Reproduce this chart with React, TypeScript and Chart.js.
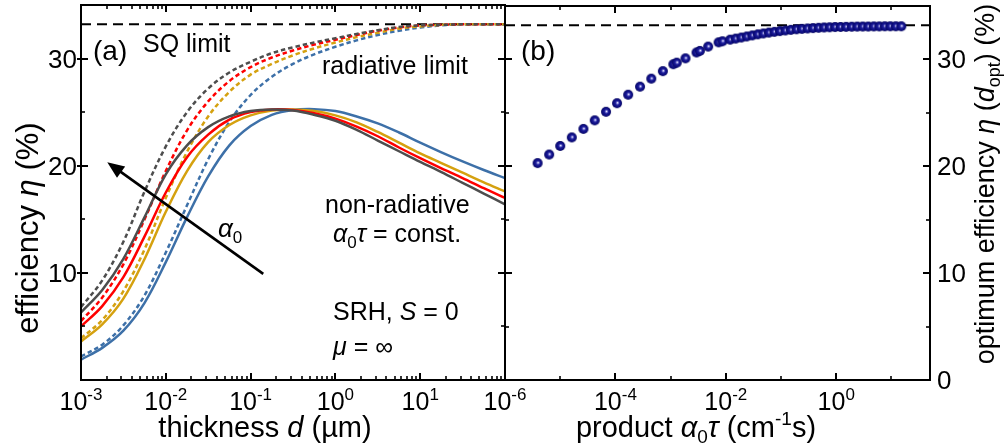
import { useEffect, useRef } from "react";
import { Chart, registerables } from "chart.js";

Chart.register(...registerables);

const FONT = '"Liberation Sans", Arial, Helvetica, sans-serif';
const W = 1004;
const H = 448;

// (a) film thickness d (µm), sampled every quarter decade
const thickness = [
  0.001, 0.00178, 0.00316, 0.00562, 0.01, 0.0178, 0.0316, 0.0562, 0.1, 0.178, 0.316,
  0.562, 1, 1.78, 3.16, 5.62, 10, 17.8, 31.6, 56.2, 100,
];

// radiative limit (dashed), one curve per absorption coefficient α0
const radiativeBlue = [2.2, 3.3, 5.1, 7.9, 11.9, 16.3, 20.6, 24.1, 26.6, 28.3, 29.5, 30.4, 31.1, 31.7, 32.2, 32.6, 32.9, 33.1, 33.2, 33.2, 33.2];
const radiativeGold = [3.9, 5.6, 8.3, 12.2, 17.0, 21.3, 24.6, 26.9, 28.5, 29.5, 30.3, 30.95, 31.5, 32.0, 32.4, 32.8, 33.0, 33.15, 33.2, 33.2, 33.2];
const radiativeRed = [5.5, 7.7, 10.8, 15.0, 19.5, 23.3, 26.0, 27.9, 29.2, 30.1, 30.75, 31.3, 31.75, 32.2, 32.6, 32.9, 33.1, 33.15, 33.2, 33.2, 33.2];
const radiativeGray = [6.8, 9.3, 12.9, 17.6, 21.8, 25.0, 27.2, 28.7, 29.7, 30.5, 31.05, 31.5, 31.9, 32.3, 32.65, 32.95, 33.1, 33.15, 33.2, 33.2, 33.2];

// SRH recombination (solid), α0τ held constant
const nonRadiativeBlue = [1.9, 3.0, 4.6, 7.2, 11.0, 15.2, 19.0, 21.9, 23.7, 24.75, 25.2, 25.28, 25.1, 24.6, 23.95, 23.1, 22.15, 21.25, 20.4, 19.6, 18.85];
const nonRadiativeGold = [3.6, 5.2, 7.6, 11.3, 15.7, 19.5, 22.2, 23.8, 24.7, 25.15, 25.25, 25.1, 24.7, 24.05, 23.15, 22.15, 21.15, 20.25, 19.35, 18.45, 17.6];
const nonRadiativeRed = [5.0, 6.9, 9.6, 13.4, 17.5, 20.8, 22.9, 24.3, 25.0, 25.25, 25.2, 24.9, 24.4, 23.65, 22.75, 21.7, 20.7, 19.75, 18.85, 17.9, 17.0];
const nonRadiativeGray = [6.3, 8.4, 11.3, 15.2, 19.2, 21.9, 23.6, 24.6, 25.1, 25.25, 25.15, 24.75, 24.2, 23.35, 22.35, 21.35, 20.35, 19.4, 18.4, 17.4, 16.4];

// Shockley–Queisser limit (%)
const sqLimit = 33.2;

// (b) product α0τ (cm^-1 s) and efficiency at the optimum thickness (%)
const alphaTauProduct = [
  3.89e-6, 6.31e-6, 1.0e-5, 1.62e-5, 2.63e-5, 4.22e-5, 6.76e-5, 1.07e-4, 1.7e-4, 2.79e-4,
  4.47e-4, 7.24e-4, 1.12e-3, 1.29e-3, 1.86e-3, 2.95e-3, 3.39e-3, 4.79e-3, 7.41e-3, 8.71e-3,
  0.012, 0.0151, 0.0191, 0.024, 0.0302, 0.038, 0.0479, 0.0603, 0.0759, 0.0955,
  0.12, 0.151, 0.191, 0.24, 0.302, 0.38, 0.479, 0.603, 0.759, 0.955,
  1.2, 1.51, 1.91, 2.4, 3.02, 3.8, 4.79, 6.03, 7.59, 9.55, 12.0, 15.1,
];
const optimumEfficiency = [
  20.3, 21.1, 21.9, 22.7, 23.5, 24.3, 25.1, 25.9, 26.7, 27.45,
  28.2, 28.9, 29.55, 29.7, 30.1, 30.65, 30.8, 31.2, 31.6, 31.7,
  31.85, 31.95, 32.05, 32.15, 32.25, 32.35, 32.43, 32.51, 32.58, 32.65,
  32.71, 32.77, 32.82, 32.86, 32.9, 32.93, 32.96, 32.99, 33.01, 33.03,
  33.04, 33.05, 33.06, 33.07, 33.08, 33.08, 33.09, 33.09, 33.1, 33.1, 33.1, 33.1,
];

// axis ranges and tick labels
const yMax = 35;
const thicknessRange = [1e-3, 100];
const productRange = [1e-6, 50];
const thicknessLabelExps = [-3, -2, -1, 0, 1];
const productLabelExps = [-6, -4, -2, 0];
const productMinorExps = [-5, -3, -1, 1];
const leftYLabels = [10, 20, 30];
const rightYLabels = [0, 10, 20, 30];

const COLORS = {
  gray: "#4d4d4d",
  red: "#ff0000",
  gold: "#d5a10f",
  blue: "#3d70a8",
};

type Run = { t: string; it?: boolean; sub?: boolean; sup?: boolean };

function runFont(r: Run, size: number) {
  const s = r.sub || r.sup ? Math.round(size * 0.66) : size;
  return `${r.it ? "italic " : ""}${s}px ${FONT}`;
}

function richWidth(ctx: CanvasRenderingContext2D, runs: Run[], size: number) {
  let w = 0;
  for (const r of runs) {
    ctx.font = runFont(r, size);
    w += ctx.measureText(r.t).width;
  }
  return w;
}

function drawRich(
  ctx: CanvasRenderingContext2D,
  runs: Run[],
  x: number,
  y: number,
  size: number,
  align: "left" | "center" | "right" = "left",
  rot = 0
) {
  ctx.save();
  ctx.translate(x, y);
  if (rot) ctx.rotate(rot);
  ctx.fillStyle = "#000";
  ctx.textAlign = "left";
  ctx.textBaseline = "alphabetic";
  const w = richWidth(ctx, runs, size);
  let cx = align === "left" ? 0 : align === "center" ? -w / 2 : -w;
  for (const r of runs) {
    ctx.font = runFont(r, size);
    const dy = r.sub ? size * 0.22 : r.sup ? -size * 0.42 : 0;
    ctx.fillText(r.t, cx, dy);
    cx += ctx.measureText(r.t).width;
  }
  ctx.restore();
}

function line(ctx: CanvasRenderingContext2D, x1: number, y1: number, x2: number, y2: number) {
  ctx.beginPath();
  ctx.moveTo(x1, y1);
  ctx.lineTo(x2, y2);
  ctx.stroke();
}

type FrameOpts = {
  xMajor: number[];
  xMinor: number[];
  leftOut: number;
  decorate: (chart: Chart, ctx: CanvasRenderingContext2D) => void;
};

function framePlugin(opts: FrameOpts) {
  return {
    id: "frame",
    afterDraw(chart: Chart) {
      const ctx = chart.ctx;
      const { left, right, top, bottom } = chart.chartArea;
      const xs = chart.scales.x;
      const ys = chart.scales.y;
      ctx.save();
      ctx.strokeStyle = "#000";
      ctx.lineWidth = 2;
      ctx.strokeRect(left, top, right - left, bottom - top);
      for (const v of opts.xMajor) {
        const px = Math.round(xs.getPixelForValue(v));
        line(ctx, px, bottom, px, bottom - 7);
        line(ctx, px, top, px, top + 7);
      }
      ctx.lineWidth = 1.6;
      for (const v of opts.xMinor) {
        const px = Math.round(xs.getPixelForValue(v));
        line(ctx, px, bottom, px, bottom - 4);
        line(ctx, px, top, px, top + 4);
      }
      for (let v = 5; v < yMax; v += 5) {
        const py = Math.round(ys.getPixelForValue(v));
        const major = v % 10 === 0;
        ctx.lineWidth = major ? 2 : 1.6;
        const len = major ? 7 : 4;
        line(ctx, left - (major ? opts.leftOut : 0), py, left + len, py);
        line(ctx, right, py, right - len, py);
      }
      ctx.restore();
      opts.decorate(chart, ctx);
    },
  };
}

function decadeLabel(ctx: CanvasRenderingContext2D, exp: number, x: number) {
  drawRich(ctx, [{ t: "10" }, { t: String(exp), sup: true }], x, 410, 25, "center");
}

function sphereImage(r: number) {
  const c = document.createElement("canvas");
  const s = Math.ceil(r * 2) + 2;
  c.width = s;
  c.height = s;
  const g = c.getContext("2d")!;
  const cx = s / 2;
  const cy = s / 2;
  const grad = g.createRadialGradient(cx + 0.6, cy - 0.4, 0.1, cx, cy, r);
  grad.addColorStop(0, "#ffffff");
  grad.addColorStop(0.16, "#8c8ce0");
  grad.addColorStop(0.4, "#1c1c98");
  grad.addColorStop(0.8, "#0a0a7c");
  grad.addColorStop(1, "#05055a");
  g.fillStyle = grad;
  g.beginPath();
  g.arc(cx, cy, r, 0, Math.PI * 2);
  g.fill();
  return c;
}

function curve(ys: number[], color: string, dashed: boolean) {
  return {
    data: thickness.map((x, i) => ({ x, y: ys[i] })),
    borderColor: color,
    borderWidth: 2.5,
    borderDash: dashed ? [4.5, 3] : [],
    pointRadius: 0,
    tension: 0.35,
    fill: false,
  };
}

function minorLogTicks(fromExp: number, toExp: number) {
  const out: number[] = [];
  for (let e = fromExp; e < toExp; e++) {
    for (let m = 2; m <= 9; m++) out.push(m * Math.pow(10, e));
  }
  return out;
}

export default function App() {
  const refA = useRef<HTMLCanvasElement>(null);
  const refB = useRef<HTMLCanvasElement>(null);

  useEffect(() => {
    const thicknessMajor = [-3, -2, -1, 0, 1, 2].map((e) => Math.pow(10, e));

    const chartA = new Chart(refA.current!, {
      type: "line",
      data: {
        datasets: [
          curve(nonRadiativeGray, COLORS.gray, false),
          curve(nonRadiativeRed, COLORS.red, false),
          curve(nonRadiativeGold, COLORS.gold, false),
          curve(nonRadiativeBlue, COLORS.blue, false),
          curve(radiativeGray, COLORS.gray, true),
          curve(radiativeRed, COLORS.red, true),
          curve(radiativeGold, COLORS.gold, true),
          curve(radiativeBlue, COLORS.blue, true),
          {
            data: thicknessRange.map((x) => ({ x, y: sqLimit })),
            borderColor: "#000",
            borderWidth: 2,
            borderDash: [10, 6],
            pointRadius: 0,
          },
        ],
      },
      options: {
        animation: false,
        responsive: false,
        layout: { padding: { left: 81, right: W - 505, top: 5, bottom: H - 380 } },
        scales: {
          x: { type: "logarithmic", min: thicknessRange[0], max: thicknessRange[1], display: false },
          y: { type: "linear", min: 0, max: yMax, display: false },
        },
        plugins: { legend: { display: false }, tooltip: { enabled: false } },
      },
      plugins: [
        framePlugin({
          xMajor: thicknessMajor,
          xMinor: minorLogTicks(-3, 2),
          leftOut: 4,
          decorate(chart, ctx) {
            const xs = chart.scales.x;
            const ys = chart.scales.y;
            for (const e of thicknessLabelExps) decadeLabel(ctx, e, xs.getPixelForValue(Math.pow(10, e)));
            for (const v of leftYLabels) {
              drawRich(ctx, [{ t: String(v) }], 77, ys.getPixelForValue(v) + 9, 26, "right");
            }
            drawRich(
              ctx,
              [{ t: "efficiency " }, { t: "η", it: true }, { t: " (%)" }],
              38,
              228,
              31,
              "center",
              -Math.PI / 2
            );
            drawRich(ctx, [{ t: "thickness " }, { t: "d", it: true }, { t: " (µm)" }], 265, 437, 29, "center");

            drawRich(ctx, [{ t: "(a)" }], 93, 60, 28);
            drawRich(ctx, [{ t: "SQ limit" }], 143, 52, 25);
            drawRich(ctx, [{ t: "radiative limit" }], 322, 74, 25);
            drawRich(ctx, [{ t: "non-radiative" }], 325, 213, 25);
            drawRich(
              ctx,
              [{ t: "α", it: true }, { t: "0", sub: true }, { t: "τ", it: true }, { t: " = const." }],
              333,
              242,
              25
            );
            drawRich(ctx, [{ t: "SRH, " }, { t: "S", it: true }, { t: " = 0" }], 333, 320, 25);
            drawRich(ctx, [{ t: "μ", it: true }, { t: " = ∞" }], 333, 355, 25);
            drawRich(ctx, [{ t: "α", it: true }, { t: "0", sub: true }], 218, 237, 26);

            // arrow: increasing α0
            const x1 = xs.getPixelForValue(0.141);
            const y1 = ys.getPixelForValue(9.9);
            const x2 = xs.getPixelForValue(0.00204);
            const y2 = ys.getPixelForValue(20.33);
            const ang = Math.atan2(y2 - y1, x2 - x1);
            const head = 17;
            ctx.save();
            ctx.strokeStyle = "#000";
            ctx.fillStyle = "#000";
            ctx.lineWidth = 2.6;
            line(ctx, x1, y1, x2 - Math.cos(ang) * (head - 3), y2 - Math.sin(ang) * (head - 3));
            ctx.beginPath();
            ctx.moveTo(x2, y2);
            ctx.lineTo(x2 - head * Math.cos(ang) + 7 * Math.sin(ang), y2 - head * Math.sin(ang) - 7 * Math.cos(ang));
            ctx.lineTo(x2 - head * Math.cos(ang) - 7 * Math.sin(ang), y2 - head * Math.sin(ang) + 7 * Math.cos(ang));
            ctx.closePath();
            ctx.fill();
            ctx.restore();
          },
        }),
      ],
    } as any);

    const sphere = sphereImage(5);
    const productMajor = productLabelExps.map((e) => Math.pow(10, e));
    const productMinor = productMinorExps.map((e) => Math.pow(10, e));

    const chartB = new Chart(refB.current!, {
      type: "scatter",
      data: {
        datasets: [
          {
            data: alphaTauProduct.map((x, i) => ({ x, y: optimumEfficiency[i] })),
            pointStyle: sphere,
            pointRadius: 5,
          },
          {
            type: "line",
            data: productRange.map((x) => ({ x, y: sqLimit })),
            borderColor: "#000",
            borderWidth: 2,
            borderDash: [10, 6],
            pointRadius: 0,
            showLine: true,
          },
        ],
      },
      options: {
        animation: false,
        responsive: false,
        layout: { padding: { left: 505, right: W - 930, top: 5, bottom: H - 380 } },
        scales: {
          x: { type: "logarithmic", min: productRange[0], max: productRange[1], display: false },
          y: { type: "linear", min: 0, max: yMax, display: false },
        },
        plugins: { legend: { display: false }, tooltip: { enabled: false } },
      },
      plugins: [
        framePlugin({
          xMajor: productMajor,
          xMinor: productMinor,
          leftOut: 0,
          decorate(chart, ctx) {
            const xs = chart.scales.x;
            const ys = chart.scales.y;
            for (const e of productLabelExps) decadeLabel(ctx, e, xs.getPixelForValue(Math.pow(10, e)));
            for (const v of rightYLabels) {
              drawRich(ctx, [{ t: String(v) }], 937, ys.getPixelForValue(v) + 9, 26, "left");
            }
            drawRich(
              ctx,
              [
                { t: "optimum efficiency " },
                { t: "η", it: true },
                { t: " (" },
                { t: "d", it: true },
                { t: "opt", sub: true },
                { t: ") (%)" },
              ],
              994,
              184,
              27,
              "center",
              -Math.PI / 2
            );
            drawRich(
              ctx,
              [
                { t: "product " },
                { t: "α", it: true },
                { t: "0", sub: true },
                { t: "τ", it: true },
                { t: " (cm" },
                { t: "-1", sup: true },
                { t: "s)" },
              ],
              696,
              437,
              29,
              "center"
            );
            drawRich(ctx, [{ t: "(b)" }], 521, 60, 28);
          },
        }),
      ],
    } as any);

    return () => {
      chartA.destroy();
      chartB.destroy();
    };
  }, []);

  const canvasStyle = { position: "absolute" as const, left: 0, top: 0, width: W, height: H };
  return (
    <div style={{ position: "absolute", left: 0, top: 0, width: W, height: H, background: "#fff" }}>
      <canvas ref={refA} width={W} height={H} style={canvasStyle} />
      <canvas ref={refB} width={W} height={H} style={canvasStyle} />
    </div>
  );
}
